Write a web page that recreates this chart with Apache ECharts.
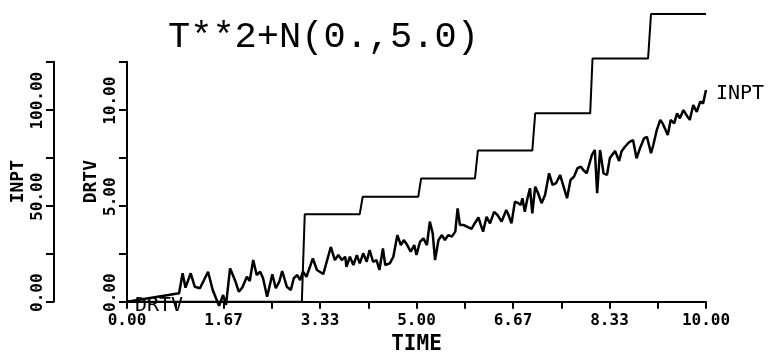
<!DOCTYPE html>
<html>
<head>
<meta charset="utf-8">
<script src="https://cdn.jsdelivr.net/npm/echarts@6/dist/echarts.min.js"></script>
<style>
  html, body { margin: 0; padding: 0; background: #fff; }
  #chart { width: 774px; height: 360px; }
</style>
</head>
<body>
<div id="chart"></div>
<script>
// Plot title and axis names
const chartTitle = 'T**2+N(0.,5.0)';
const timeName = 'TIME';
const inptName = 'INPT';
const drtvName = 'DRTV';

// INPT: noisy input signal, sample times and values
const inptTime = [
  0, 0.90, 0.96, 1.01, 1.10, 1.17, 1.26, 1.40, 1.48, 1.59,
  1.66, 1.71, 1.78, 1.87, 1.93, 1.99, 2.07, 2.12, 2.18, 2.24,
  2.30, 2.35, 2.42, 2.51, 2.57, 2.63, 2.68, 2.76, 2.83, 2.88,
  2.94, 2.99, 3.04, 3.10, 3.21, 3.28, 3.39, 3.52, 3.59, 3.65,
  3.71, 3.77, 3.79, 3.85, 3.91, 3.97, 4.02, 4.08, 4.14, 4.19,
  4.25, 4.31, 4.36, 4.42, 4.46, 4.54, 4.60, 4.67, 4.73, 4.78,
  4.84, 4.90, 4.96, 5.00, 5.06, 5.12, 5.18, 5.23, 5.28, 5.32,
  5.38, 5.44, 5.49, 5.55, 5.61, 5.67, 5.71, 5.75, 5.81, 5.87,
  5.95, 6.01, 6.07, 6.11, 6.15, 6.21, 6.27, 6.34, 6.40, 6.47,
  6.55, 6.59, 6.64, 6.70, 6.76, 6.80, 6.83, 6.87, 6.91, 6.96,
  7.00, 7.05, 7.10, 7.16, 7.22, 7.29, 7.35, 7.41, 7.48, 7.54,
  7.60, 7.66, 7.72, 7.78, 7.84, 7.88, 7.94, 8.03, 8.08, 8.12,
  8.17, 8.23, 8.29, 8.34, 8.43, 8.50, 8.54, 8.60, 8.68, 8.74,
  8.80, 8.86, 8.93, 8.98, 9.05, 9.09, 9.15, 9.21, 9.25, 9.34,
  9.39, 9.45, 9.50, 9.55, 9.61, 9.68, 9.72, 9.78, 9.84, 9.90,
  9.95, 10.00
];
const inptValue = [
  0, 4.4, 14.8, 7.3, 14.8, 7.8, 7.0, 15.6, 6.1, -2.1,
  3.5, -1.7, 17.4, 10.8, 5.2, 7.3, 13.0, 10.8, 21.7, 13.9,
  15.6, 12.2, 2.6, 14.3, 7.0, 10.4, 16.0, 7.8, 6.1, 12.2,
  13.9, 11.3, 15.6, 13.0, 22.6, 16.5, 14.4, 28.5, 21.7, 24.3,
  21.7, 23.4, 18.2, 23.4, 19.1, 24.3, 20.0, 25.2, 20.8, 26.9,
  20.8, 21.7, 16.5, 27.8, 19.1, 20.0, 23.4, 34.7, 29.5, 32.1,
  29.5, 26.0, 29.5, 24.3, 31.2, 33.0, 29.5, 41.7, 35.6, 21.7,
  32.1, 34.7, 32.1, 34.7, 33.9, 36.5, 48.6, 40.0, 40.0, 39.1,
  37.9, 41.0, 43.9, 40.0, 36.5, 44.2, 40.8, 46.8, 45.1, 41.7,
  47.8, 45.1, 40.8, 52.1, 51.3, 50.4, 53.9, 46.8, 53.0, 59.1,
  46.0, 59.9, 56.5, 51.3, 55.6, 66.9, 60.8, 61.7, 66.0, 59.9,
  53.9, 63.4, 65.1, 69.5, 70.3, 68.6, 66.9, 76.5, 79.0, 56.5,
  79.0, 66.9, 66.0, 74.8, 78.5, 73.3, 78.2, 80.7, 83.3, 84.2,
  74.7, 79.9, 85.1, 85.9, 77.3, 81.6, 89.4, 94.7, 92.9, 86.8,
  94.7, 92.9, 98.1, 95.5, 99.8, 96.4, 94.7, 102.4, 98.9, 104.2,
  103.3, 110.3
];

// DRTV: step-wise derivative estimate, breakpoints and levels
const drtvTime = [0, 3.02, 3.07, 4.02, 4.07, 5.03, 5.08, 6.01, 6.06, 7.00, 7.05, 8.00, 8.04, 9.00, 9.05, 10.00];
const drtvValue = [0, 0, 4.56, 4.56, 5.46, 5.46, 6.42, 6.42, 7.87, 7.87, 9.81, 9.81, 12.67, 12.67, 14.98, 14.98];

// Axis ranges and tick spacing
const timeRange = [0, 10];
const timeStep = 10 / 12;
const drtvRange = [0, 12.5];
const drtvStep = 2.5;
const inptRange = [0, 125];
const inptStep = 25;

const INK = '#000';
const MONO = '"DejaVu Sans Mono", "Liberation Mono", monospace';

const inptData = inptTime.map((t, i) => [t, inptValue[i]]);
// the DRTV name is written at the start of its curve
const drtvData = drtvTime.map((t, i) => {
  if (i === 0) {
    return {
      value: [t, drtvValue[i]],
      label: {
        show: true, formatter: drtvName, position: 'right', distance: 8,
        offset: [0, 4], color: INK, fontFamily: MONO, fontSize: 20
      }
    };
  }
  return [t, drtvValue[i]];
});

// every other tick carries a label, with two decimals
const everyOther = (v, idx) => (idx % 2 === 0 ? Number(v).toFixed(2) : '');

const axisLineStyle = { show: true, lineStyle: { color: INK, width: 2 } };
const tickStyle = { show: true, length: 8, lineStyle: { color: INK, width: 2 } };
const tickLabel = { color: INK, fontFamily: MONO, fontWeight: 'bold', fontSize: 16 };

function valueAxisY(name, range, step, offset) {
  return {
    type: 'value', position: 'left', offset: offset,
    min: range[0], max: range[1], interval: step,
    name: name, nameLocation: 'middle', nameRotate: 90, nameGap: 27,
    nameMoveOverlap: false,
    nameTextStyle: { color: INK, fontFamily: MONO, fontSize: 18, fontWeight: 'bold' },
    axisLine: axisLineStyle,
    axisTick: tickStyle,
    splitLine: { show: false },
    axisLabel: Object.assign({
      rotate: 90, align: 'center', verticalAlign: 'bottom', margin: 8,
      padding: [0, 0, 0, 18], formatter: everyOther, showMaxLabel: true, showMinLabel: true
    }, tickLabel)
  };
}

const chart = echarts.init(document.getElementById('chart'), null, { renderer: 'canvas' });
chart.setOption({
  animation: false,
  backgroundColor: '#fff',
  title: {
    text: chartTitle, left: 163, top: 14,
    textStyle: { color: INK, fontFamily: '"Liberation Mono", monospace', fontSize: 37, fontWeight: 'normal' }
  },
  grid: { left: 127, right: 68, top: 61.7, bottom: 58.3, containLabel: false, outerBoundsMode: 'none' },
  xAxis: {
    type: 'value', min: timeRange[0], max: timeRange[1], interval: timeStep,
    name: timeName, nameLocation: 'middle', nameGap: 32, nameMoveOverlap: false,
    nameTextStyle: { color: INK, fontFamily: MONO, fontSize: 21, fontWeight: 'bold' },
    axisLine: axisLineStyle,
    axisTick: Object.assign({}, tickStyle, { length: 7 }),
    splitLine: { show: false },
    axisLabel: Object.assign({ margin: 11, formatter: everyOther }, tickLabel)
  },
  yAxis: [
    valueAxisY(drtvName, drtvRange, drtvStep, 0),
    valueAxisY(inptName, inptRange, inptStep, 73)
  ],
  series: [
    {
      name: drtvName, type: 'line', yAxisIndex: 0, data: drtvData,
      symbol: 'circle', symbolSize: 0, showSymbol: true, clip: false,
      lineStyle: { color: INK, width: 2 },
      itemStyle: { color: INK }
    },
    {
      name: inptName, type: 'line', yAxisIndex: 1, data: inptData,
      showSymbol: false, symbol: 'none', clip: false,
      lineStyle: { color: INK, width: 2.5 },
      endLabel: {
        show: true, formatter: inptName, distance: 10, offset: [0, 4],
        color: INK, fontFamily: MONO, fontSize: 20
      }
    }
  ]
});
</script>
</body>
</html>
